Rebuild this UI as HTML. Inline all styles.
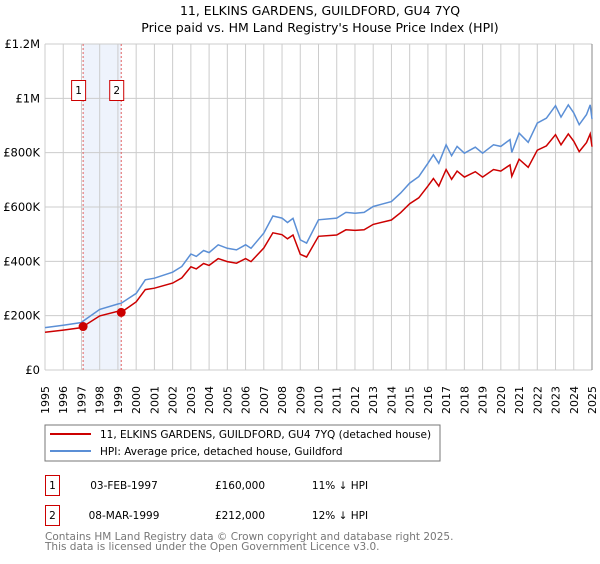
<!DOCTYPE html>
<html><head><meta charset="utf-8"><style>
body{margin:0;background:#fff;font-family:"DejaVu Sans","Liberation Sans",sans-serif;}
svg text{font-family:"DejaVu Sans","Liberation Sans",sans-serif;}
</style></head><body>
<svg id="c" width="600" height="560" xmlns="http://www.w3.org/2000/svg">
<text x="320" y="15" text-anchor="middle" font-size="12.5">11, ELKINS GARDENS, GUILDFORD, GU4 7YQ</text>
<text x="320" y="32" text-anchor="middle" font-size="12.5">Price paid vs. HM Land Registry's House Price Index (HPI)</text>
<g id="grid"></g><g id="series"></g>
<rect x="45" y="425" width="395" height="36" fill="#fff" stroke="#777"/>
<line x1="50" y1="434" x2="91" y2="434" stroke="#cc0000" stroke-width="2"/>
<text x="100" y="438" font-size="10.5">11, ELKINS GARDENS, GUILDFORD, GU4 7YQ (detached house)</text>
<line x1="50" y1="451" x2="91" y2="451" stroke="#5b8fd6" stroke-width="2"/>
<text x="100" y="455" font-size="10.5">HPI: Average price, detached house, Guildford</text>
<rect x="45.5" y="475.5" width="14" height="20" fill="#fff" stroke="#cc0000"/>
<text x="52.5" y="489" text-anchor="middle" font-size="10.5">1</text>
<text x="124" y="489" text-anchor="middle" font-size="10.5">03-FEB-1997</text>
<text x="240" y="489" text-anchor="middle" font-size="10.5">£160,000</text>
<text x="340" y="489" text-anchor="middle" font-size="10.5">11% ↓ HPI</text>
<rect x="45.5" y="505.5" width="14" height="20" fill="#fff" stroke="#cc0000"/>
<text x="52.5" y="519" text-anchor="middle" font-size="10.5">2</text>
<text x="124" y="519" text-anchor="middle" font-size="10.5">08-MAR-1999</text>
<text x="240" y="519" text-anchor="middle" font-size="10.5">£212,000</text>
<text x="340" y="519" text-anchor="middle" font-size="10.5">12% ↓ HPI</text>
<text x="45" y="540" font-size="10.5" fill="#777">Contains HM Land Registry data © Crown copyright and database right 2025.</text>
<text x="45" y="550" font-size="10.5" fill="#777">This data is licensed under the Open Government Licence v3.0.</text>
</svg>
<script>
const years=[1995,1996,1997,1997.09,1998,1999,1999.18,2000,2000.5,2001,2002,2002.5,2003,2003.3,2003.7,2004,2004.5,2005,2005.5,2006,2006.3,2007,2007.5,2008,2008.3,2008.6,2009,2009.35,2010,2011,2011.5,2012,2012.5,2013,2014,2014.5,2015,2015.5,2016,2016.3,2016.6,2017,2017.3,2017.6,2018,2018.6,2019,2019.6,2020,2020.5,2020.6,2021,2021.5,2022,2022.5,2023,2023.3,2023.7,2024,2024.3,2024.7,2024.9,2025];
const hpiValues=[156,165,175,180,223,243,246,282,332,338,360,381,427,418,440,432,461,448,442,461,448,504,567,559,543,558,479,467,553,559,580,577,580,602,620,651,688,712,761,792,761,829,789,823,798,820,798,829,823,848,801,872,838,909,927,973,931,976,946,903,940,976,924];
const propValues=[139,147,156,160,199,216,212,251,296,301,320,339,380,372,392,385,410,399,393,410,399,449,505,498,483,497,426,416,492,497,516,514,516,536,552,579,612,634,677,705,677,738,702,732,710,730,710,738,732,755,713,776,746,809,825,866,829,869,842,804,837,869,822];
const sales=[[1997.09,160],[1999.18,212]];
const yTicks=[0,200,400,600,800,1000,1200];
const yLabels=["£0","£200K","£400K","£600K","£800K","£1M","£1.2M"];
const NS="http://www.w3.org/2000/svg";
const X=y=>45+(y-1995)*(547/30), Y=v=>370-v*(326/1200);
function mk(t,a,p){const e=document.createElementNS(NS,t);for(const k in a)e.setAttribute(k,a[k]);p.appendChild(e);return e;}
const g=document.getElementById('grid'),s=document.getElementById('series');
const band=mk('rect',{x:X(sales[0][0]),y:Y(1200),width:X(sales[1][0])-X(sales[0][0]),height:Y(0)-Y(1200),fill:'#eef3fc'},g);


for(let yr=1995;yr<=2025;yr++){
 const l=mk('line',{x1:X(yr),x2:X(yr),y1:Y(1200),y2:Y(0),stroke:'#ccc'},g);
 
 
 const t=mk('text',{x:0,y:0,'font-size':'11',transform:`translate(${X(yr)+4},${414}) rotate(-90)`},g);
 t.textContent=yr;
 
 
}
yTicks.forEach((v,i)=>{
 const l=mk('line',{x1:45,x2:592,y1:Y(v),y2:Y(v),stroke:'#ccc'},g);
 
 
 const t=mk('text',{x:40,y:Y(v)+4,'font-size':'11.5','text-anchor':'end'},g);
 t.textContent=yLabels[i];
 
 
});
const ax=mk('line',{x1:592,x2:592,y1:Y(1200),y2:Y(0),stroke:'#888'},g);


sales.forEach((d,i)=>{
 const l=mk('line',{x1:X(d[0]),x2:X(d[0]),y1:Y(1200),y2:Y(0),stroke:'#e06060','stroke-dasharray':'2,2'},g);
 
 
 const b=mk('rect',{x:X(d[0])-11.5,y:80.5,width:14,height:20,fill:'#fff',stroke:'#cc0000'},g);
 
 
 const t=mk('text',{x:X(d[0])-4.5,y:94,'font-size':'10.5','text-anchor':'middle'},g);
 t.textContent=String(i+1);
});
const pts=vals=>years.map((y,i)=>X(y).toFixed(1)+','+Y(vals[i]).toFixed(1)).join(' ');
const h=mk('polyline',{points:pts(hpiValues),fill:'none',stroke:'#5b8fd6','stroke-width':'1.5'},s);


const p=mk('polyline',{points:pts(propValues),fill:'none',stroke:'#cc0000','stroke-width':'1.5'},s);


sales.forEach(d=>{
 const c=mk('circle',{cx:X(d[0]),cy:Y(d[1]),r:4.5,fill:'#cc0000'},s);
 
 
});
</script>
</body></html>
